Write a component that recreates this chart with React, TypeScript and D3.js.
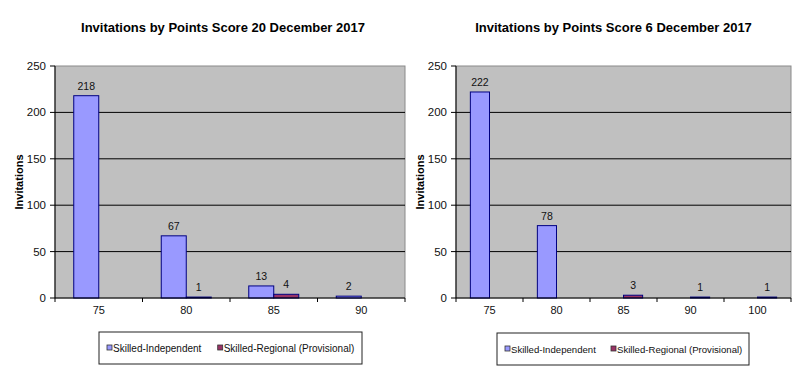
import React from "react";
import * as d3 from "d3";

const seriesNames = ["Skilled-Independent", "Skilled-Regional (Provisional)"];
const seriesColors = ["#9999FF", "#993366"];

const leftTitle = "Invitations by Points Score 20 December 2017";
const leftCategories = ["75", "80", "85", "90"];
const leftIndependent = [218, 67, 13, 2];
const leftRegional = [0, 1, 4, 0];

const rightTitle = "Invitations by Points Score 6 December 2017";
const rightCategories = ["75", "80", "85", "90", "100"];
const rightIndependent = [222, 78, 0, 0, 0];
const rightRegional = [0, 0, 3, 1, 1];

const yTicks = [0, 50, 100, 150, 200, 250];
const yAxisTitle = "Invitations";

type Layout = {
  titleX: number;
  left: number;
  right: number;
  top: number;
  bottom: number;
  yTitleX: number;
  legendX: number;
  legendY: number;
  legendW: number;
  legendH: number;
  legendItem2: number;
  legendFont: number;
};

function Chart({
  title,
  categories,
  values,
  layout,
}: {
  title: string;
  categories: string[];
  values: number[][];
  layout: Layout;
}) {
  const L = layout;
  const x0 = d3.scaleBand<string>().domain(categories).range([L.left, L.right]).padding(0);
  const x1 = d3
    .scaleBand<number>()
    .domain(values.map((_, i) => i))
    .range([0, x0.bandwidth()])
    .paddingInner(0)
    .paddingOuter(0.75);
  const y = d3.scaleLinear().domain([0, 250]).range([L.bottom, L.top]);
  const font = "Arial, 'Liberation Sans', sans-serif";
  const boundaries = categories.map((c) => x0(c)!).concat([L.right]);
  return (
    <g fontFamily={font}>
      <text x={L.titleX} y={32} textAnchor="middle" fontWeight="bold" fontSize={13} fill="#000">
        {title}
      </text>
      <rect
        x={L.left}
        y={L.top}
        width={L.right - L.left}
        height={L.bottom - L.top}
        fill="#C0C0C0"
        stroke="#8a8a8a"
        strokeWidth={1}
      />
      {yTicks
        .filter((t) => t > 0 && t < 250)
        .map((t) => (
          <line key={"g" + t} x1={L.left} x2={L.right} y1={y(t)} y2={y(t)} stroke="#000" strokeWidth={1} />
        ))}
      {values.map((ser, si) =>
        ser.map((v, ci) => {
          if (v <= 0) return null;
          const bx = x0(categories[ci])! + x1(si)!;
          return (
            <rect
              key={`b${si}-${ci}`}
              x={bx}
              y={y(v)}
              width={x1.bandwidth()}
              height={L.bottom - y(v)}
              fill={seriesColors[si]}
              stroke="#000080"
              strokeWidth={1}
            />
          );
        })
      )}
      {values.map((ser, si) =>
        ser.map((v, ci) => {
          if (v <= 0) return null;
          const cx = x0(categories[ci])! + x1(si)! + x1.bandwidth() / 2;
          return (
            <text key={`l${si}-${ci}`} x={cx} y={y(v) - 6} textAnchor="middle" fontSize={10.5} fill="#111">
              {v}
            </text>
          );
        })
      )}
      <line x1={L.left} x2={L.left} y1={L.top} y2={L.bottom} stroke="#000" />
      <line x1={L.left} x2={L.right} y1={L.bottom} y2={L.bottom} stroke="#000" />
      {yTicks.map((t) => (
        <g key={"yt" + t}>
          <line x1={L.left - 5} x2={L.left} y1={y(t)} y2={y(t)} stroke="#000" />
          <text x={L.left - 9} y={y(t) + 4} textAnchor="end" fontSize={11.5} fill="#111">
            {t}
          </text>
        </g>
      ))}
      {boundaries.map((bx, i) => (
        <line key={"xt" + i} x1={bx} x2={bx} y1={L.bottom} y2={L.bottom + 4} stroke="#000" />
      ))}
      {categories.map((c) => (
        <text
          key={"xl" + c}
          x={x0(c)! + x0.bandwidth() / 2}
          y={L.bottom + 16}
          textAnchor="middle"
          fontSize={11}
          fill="#111"
        >
          {c}
        </text>
      ))}
      <text
        transform={`translate(${L.yTitleX},${(L.top + L.bottom) / 2}) rotate(-90)`}
        textAnchor="middle"
        fontWeight="bold"
        fontSize={11}
        fill="#000"
      >
        {yAxisTitle}
      </text>
      <rect
        x={L.legendX}
        y={L.legendY}
        width={L.legendW}
        height={L.legendH}
        fill="#fff"
        stroke="#222"
        strokeWidth={1}
      />
      {seriesNames.map((name, si) => {
        const lx = L.legendX + 8 + (si === 0 ? 0 : L.legendItem2);
        const ly = L.legendY + L.legendH / 2;
        return (
          <g key={"lg" + si}>
            <rect x={lx} y={ly - 3} width={5} height={5} fill={seriesColors[si]} stroke="#333" strokeWidth={0.8} />
            <text x={lx + 6} y={ly + 3.5} fontSize={L.legendFont} fill="#111">
              {name}
            </text>
          </g>
        );
      })}
    </g>
  );
}

export default function App() {
  const leftLayout: Layout = {
    titleX: 223,
    left: 55,
    right: 405,
    top: 66,
    bottom: 298,
    yTitleX: 22.5,
    legendX: 99,
    legendY: 332,
    legendW: 263,
    legendH: 32,
    legendItem2: 110.7,
    legendFont: 10,
  };
  const rightLayout: Layout = {
    titleX: 613.5,
    left: 456,
    right: 791,
    top: 66,
    bottom: 298,
    yTitleX: 424,
    legendX: 497,
    legendY: 333,
    legendW: 252,
    legendH: 32,
    legendItem2: 106,
    legendFont: 9.6,
  };
  return (
    <svg width={808} height={379} style={{ position: "absolute", left: 0, top: 0, background: "#fff" }}>
      <rect x={0} y={0} width={808} height={379} fill="#fff" />
      <Chart
        title={leftTitle}
        categories={leftCategories}
        values={[leftIndependent, leftRegional]}
        layout={leftLayout}
      />
      <Chart
        title={rightTitle}
        categories={rightCategories}
        values={[rightIndependent, rightRegional]}
        layout={rightLayout}
      />
    </svg>
  );
}
